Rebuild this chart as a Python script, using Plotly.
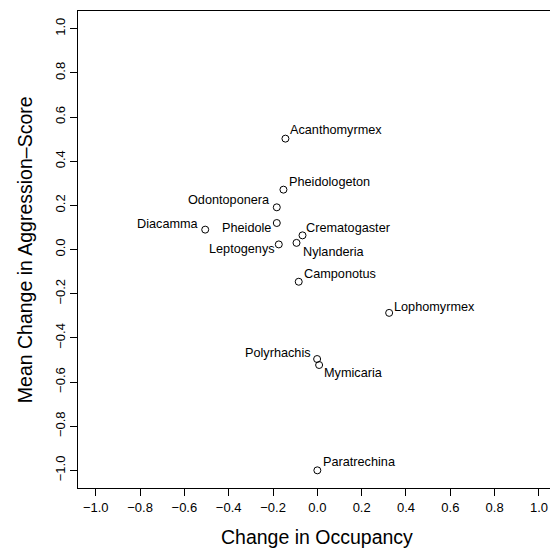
import plotly.graph_objects as go

genera = ["Acanthomyrmex", "Pheidologeton", "Odontoponera", "Pheidole", "Diacamma",
          "Crematogaster", "Leptogenys", "Nylanderia", "Camponotus", "Lophomyrmex",
          "Polyrhachis", "Mymicaria", "Paratrechina"]
occupancy_change = [-0.144, -0.153, -0.183, -0.183, -0.506, -0.067, -0.174, -0.094,
                    -0.084, 0.324, -0.001, 0.008, 0.0]
aggression_change = [0.502, 0.271, 0.191, 0.120, 0.090, 0.064, 0.023, 0.030,
                     -0.146, -0.287, -0.496, -0.523, -1.0]

x_ticks = [-1.0, -0.8, -0.6, -0.4, -0.2, 0.0, 0.2, 0.4, 0.6, 0.8, 1.0]
y_ticks = [-1.0, -0.8, -0.6, -0.4, -0.2, 0.0, 0.2, 0.4, 0.6, 0.8, 1.0]

# label placement style: (xanchor, pixel dx, pixel dy upward)
label_style = {
    "Acanthomyrmex": ("left", 3, 8.7),
    "Pheidologeton": ("left", 4, 7.2),
    "Odontoponera": ("right", -5, 7.7),
    "Pheidole": ("right", -4, -4.5),
    "Diacamma": ("right", -4.5, 5.5),
    "Crematogaster": ("left", 1.5, 6.9),
    "Leptogenys": ("right", -2, -4.1),
    "Nylanderia": ("left", 4.5, -8.9),
    "Camponotus": ("left", 3.5, 7.5),
    "Lophomyrmex": ("left", 3.3, 6.1),
    "Polyrhachis": ("right", -4, 6.5),
    "Mymicaria": ("left", 3.3, -8),
    "Paratrechina": ("left", 4, 7.9),
}

FONT = "Liberation Sans, Arial, Helvetica, sans-serif"

fig = go.Figure()
fig.add_trace(go.Scatter(
    x=occupancy_change, y=aggression_change, mode="markers",
    marker=dict(symbol="circle-open", size=7, color="black", line=dict(width=1, color="black")),
    hoverinfo="text", text=genera, showlegend=False,
))

annotations = []
for name, xv, yv in zip(genera, occupancy_change, aggression_change):
    anchor, dx, dy = label_style[name]
    annotations.append(dict(
        x=xv, y=yv, xref="x", yref="y", text=name, showarrow=False,
        xanchor=anchor, yanchor="middle", xshift=dx, yshift=dy,
        font=dict(family=FONT, size=12.7, color="black"),
    ))

annotations.append(dict(
    x=0, y=0, xref="x", yref="paper", text="Change in Occupancy", showarrow=False,
    xanchor="center", yanchor="middle", yshift=-48.7,
    font=dict(family=FONT, size=19.5, color="black"),
))
annotations.append(dict(
    x=0, y=0.5, xref="paper", yref="paper", text="Mean Change in Aggression\u2013Score",
    showarrow=False, textangle=-90, xanchor="center", yanchor="middle", xshift=-53.3,
    font=dict(family=FONT, size=19.5, color="black"),
))

fig.update_layout(
    width=550, height=549,
    margin=dict(l=78, r=0, t=11, b=61, pad=0),
    paper_bgcolor="white", plot_bgcolor="white",
    font=dict(family=FONT, size=13, color="black"),
    annotations=annotations,
    xaxis=dict(
        range=[-1.08, 1.0498], tickvals=x_ticks, tickformat=".1f",
        ticks="outside", ticklen=7, tickwidth=1, tickcolor="black",
        showline=True, linecolor="black", linewidth=1, mirror=True,
        showgrid=False, zeroline=False, tickfont=dict(size=13),
    ),
    yaxis=dict(
        range=[-1.08, 1.08], tickvals=y_ticks, tickformat=".1f",
        ticks="outside", ticklen=7, tickwidth=1, tickcolor="black",
        showline=True, linecolor="black", linewidth=1, mirror=False,
        showgrid=False, zeroline=False, tickangle=-90, tickfont=dict(size=13),
    ),
)

fig.write_html("out.html")
